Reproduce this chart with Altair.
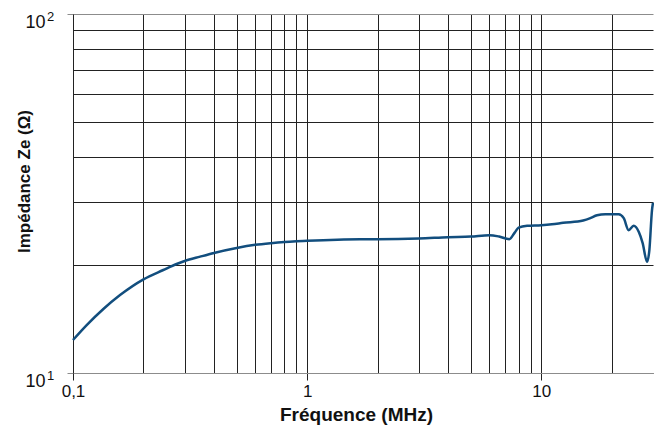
import altair as alt
import pandas as pd

# Frequency (MHz) and impedance (Ohm)
freq = [0.1, 0.1144, 0.1348, 0.1588, 0.2, 0.243, 0.277, 0.3, 0.349, 0.4, 0.5, 0.6, 0.7, 0.8, 0.9,
        1.0, 1.68, 2, 3, 4, 5, 6, 6.6, 7.3, 7.7, 8, 8.7, 10, 11.1, 12.4, 15.1, 16.2,
        17.3, 18.77, 21.4, 22.5, 23.6, 24.8, 26.1, 27.1, 28.3, 28.95, 29.7, 30]
imp = [12.36, 13.6, 15.08, 16.49, 18.24, 19.36, 20.12, 20.51, 21.09, 21.6, 22.3, 22.75, 23.0, 23.17, 23.28,
       23.36, 23.6, 23.6, 23.7, 23.9, 24.0, 24.2, 24.0, 23.6, 24.6, 25.4, 25.7, 25.8, 25.95, 26.2, 26.6, 27.0,
       27.5, 27.7, 27.7, 27.0, 25.0, 25.7, 24.7, 23.0, 20.4, 22.0, 28.4, 29.8]

x_grid = [0.1, 0.2, 0.3, 0.4, 0.5, 0.6, 0.7, 0.8, 0.9,
          1, 2, 3, 4, 5, 6, 7, 8, 9, 10, 20]
y_grid = [10, 20, 30, 40, 50, 60, 70, 80, 90, 100]
exp_vals = [100, 10]
exp_text = ["2", "1"]

df = pd.DataFrame({"f": freq, "z": imp})
df_exp = pd.DataFrame({"v": exp_vals, "e": exp_text})

FONT = "Liberation Sans"
x_major = "datum.value == 0.1 || datum.value == 1 || datum.value == 10"
y_major = "datum.value == 10 || datum.value == 100"

x_enc = alt.X(
    "f:Q",
    scale=alt.Scale(type="log", domain=[0.1, 30], nice=False),
    axis=alt.Axis(
        values=x_grid,
        labelExpr="datum.value == 0.1 ? '0,1' : (datum.value == 1 ? '1' : (datum.value == 10 ? '10' : ''))",
        title="Fréquence (MHz)",
        grid=True,
        gridColor="#222222",
        gridWidth=1,
        tickSize=7,
        tickColor="#222222",
        tickOpacity={"condition": {"test": x_major, "value": 1}, "value": 0},
        domainColor="#8c8c8c",
        domainWidth=1,
        labelFlush=False,
        labelOverlap=False,
        labelFont=FONT,
        labelFontSize=17,
        labelColor="#111111",
        labelPadding=3,
        titleFont=FONT,
        titleFontSize=19,
        titleFontWeight="bold",
        titleColor="#111111",
        titleX=283,
        titleY=47,
        titleBaseline="alphabetic",
        titleAlign="center",
    ),
)

y_enc = alt.Y(
    "z:Q",
    scale=alt.Scale(type="log", domain=[10, 100], nice=False),
    axis=alt.Axis(
        values=y_grid,
        labelExpr="(datum.value == 10 || datum.value == 100) ? '10' : ''",
        title="Impédance Ze (Ω)",
        grid=True,
        gridColor={"condition": {"test": "datum.value == 100", "value": "#8c8c8c"}, "value": "#222222"},
        gridWidth=1,
        tickSize=6,
        tickColor="#8c8c8c",
        tickOpacity={"condition": {"test": y_major, "value": 1}, "value": 0},
        domainColor="#222222",
        domainWidth=1,
        labelOverlap=False,
        labelFont=FONT,
        labelFontSize=18,
        labelColor="#111111",
        labelPadding=22,
        labelOffset=8,
        labelBaseline="middle",
        titleFont=FONT,
        titleFontSize=17,
        titleFontWeight="bold",
        titleColor="#111111",
        titleAngle=270,
        titleX=-49,
        titleY=167,
        titleBaseline="middle",
        titleAlign="center",
    ),
)

line = alt.Chart(df).mark_line(
    color="#124e7e", strokeWidth=2.5, interpolate="monotone"
).encode(x=x_enc, y=y_enc, order="f:Q")

exps = alt.Chart(df_exp).mark_text(
    align="left", baseline="middle", font=FONT, fontSize=13, color="#111111", dy=3
).encode(
    y=alt.Y("v:Q"),
    x=alt.value(-26),
    text="e:N",
)

chart = (
    alt.layer(line, exps)
    .properties(
        width=580,
        height=359,
        autosize=alt.AutoSizeParams(type="none"),
        padding={"left": 73, "top": 14, "right": 1, "bottom": 53},
        background="white",
    )
    .configure_view(strokeWidth=0)
)

chart.save("out.html", embed_options={"renderer": "svg", "actions": False})
